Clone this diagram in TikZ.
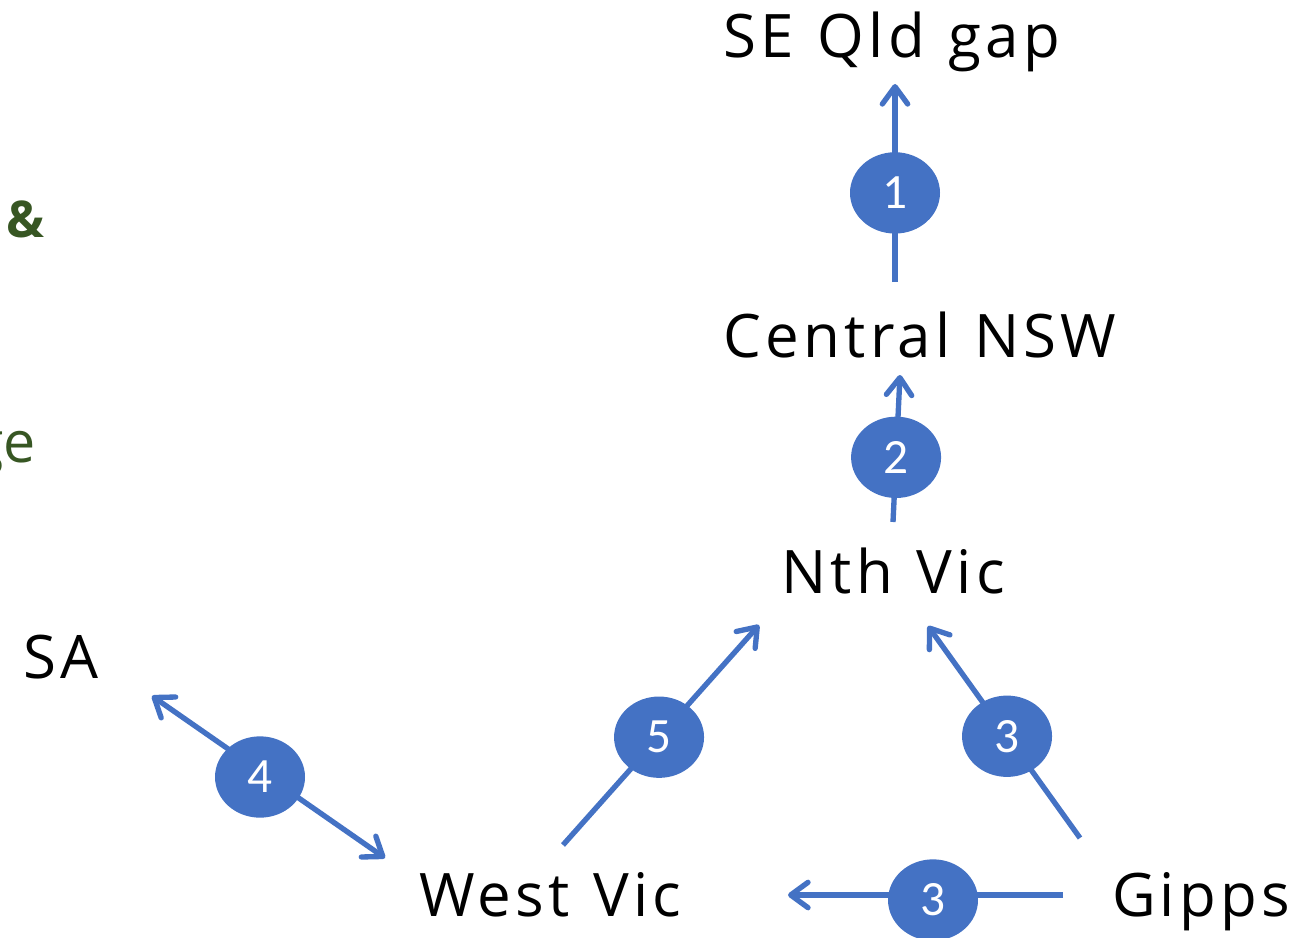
\documentclass[tikz,border=0pt]{standalone}
\definecolor{blue1}{RGB}{68, 114, 196}
\definecolor{green1}{RGB}{55, 86, 35}
\usepackage{fontspec}
\setmainfont{Open Sans}
\newfontfamily\regionfont{Open Sans}[LetterSpace=7, WordSpace=1.2]
\newfontfamily\badgefont{Carlito}
\usepackage{tikz}
\usetikzlibrary{shapes.geometric, arrows.meta, positioning, calc}

\tikzset{
  region/.style={anchor=base, inner sep=0pt, font=\regionfont\fontsize{45}{54}\selectfont},
  link/.style={draw=blue1, line width=4pt, -{Straight Barb[round, length=13pt, width=19pt]}},
  badge/.style={ellipse, fill=blue1, text=white, inner sep=0pt, minimum width=67.5pt, minimum height=61pt, font=\badgefont\fontsize{37}{40}\selectfont}
}

\begin{document}
\begin{tikzpicture}[x=0.75pt, y=-0.75pt]
  \useasboundingbox (0,0) rectangle (1306,938);
  \clip (0,0) rectangle (1306,938);

  % regions
  \node[region] (seq)   at (892,58)   {SE Qld gap};
  \node[region] (cnsw)  at (920,357)  {Central NSW};
  \node[region] (nvic)  at (893,593)  {Nth Vic};
  \node[region] (sa)    at (61,678)   {SA};
  \node[region] (wvic)  at (550,916)  {West Vic};
  \node[region] (gipps) at (1201,916) {Gipps};

  % cut-off text at the left edge
  \node[anchor=base east, inner sep=0pt, text=green1, font=\bfseries\fontsize{38}{44}\selectfont] (amp) at (45,237) {\&};
  \node[anchor=base east, inner sep=0pt, text=green1, font=\fontsize{43}{50}\selectfont] (tail) at (36,462) {ge};

  % arrow ends
  \coordinate (s1) at (895,282);  \coordinate (e1) at (895,84);
  \coordinate (s2) at (893,522);  \coordinate (e2) at (900,375);
  \coordinate (s5) at (563,845);  \coordinate (e5) at (759,625);
  \coordinate (s3) at (1080,838); \coordinate (e3) at (928,626);
  \coordinate (s4) at (385,858);  \coordinate (e4) at (152,696);
  \coordinate (s6) at (1063,895); \coordinate (e6) at (788,895);

  % flows
  \draw[link] (s1) -- (e1) node[badge, pos=0.45] (b1) {1};
  \draw[link] (s2) -- (e2) node[badge, pos=0.44] (b2) {2};
  \draw[link] (s5) -- (e5) node[badge, pos=0.49] (b5) {5};
  \draw[link] (s3) -- (e3) node[badge, pos=0.48] (b3) {3};
  \draw[link, {Straight Barb[round, length=13pt, width=19pt]}-{Straight Barb[round, length=13pt, width=19pt]}] (s4) -- (e4);
  \node[badge] (b4) at (260,777) {4};
  \draw[link] (s6) -- (e6);
  \node[badge] (b6) at (933,900) {3};
\end{tikzpicture}
\end{document}
